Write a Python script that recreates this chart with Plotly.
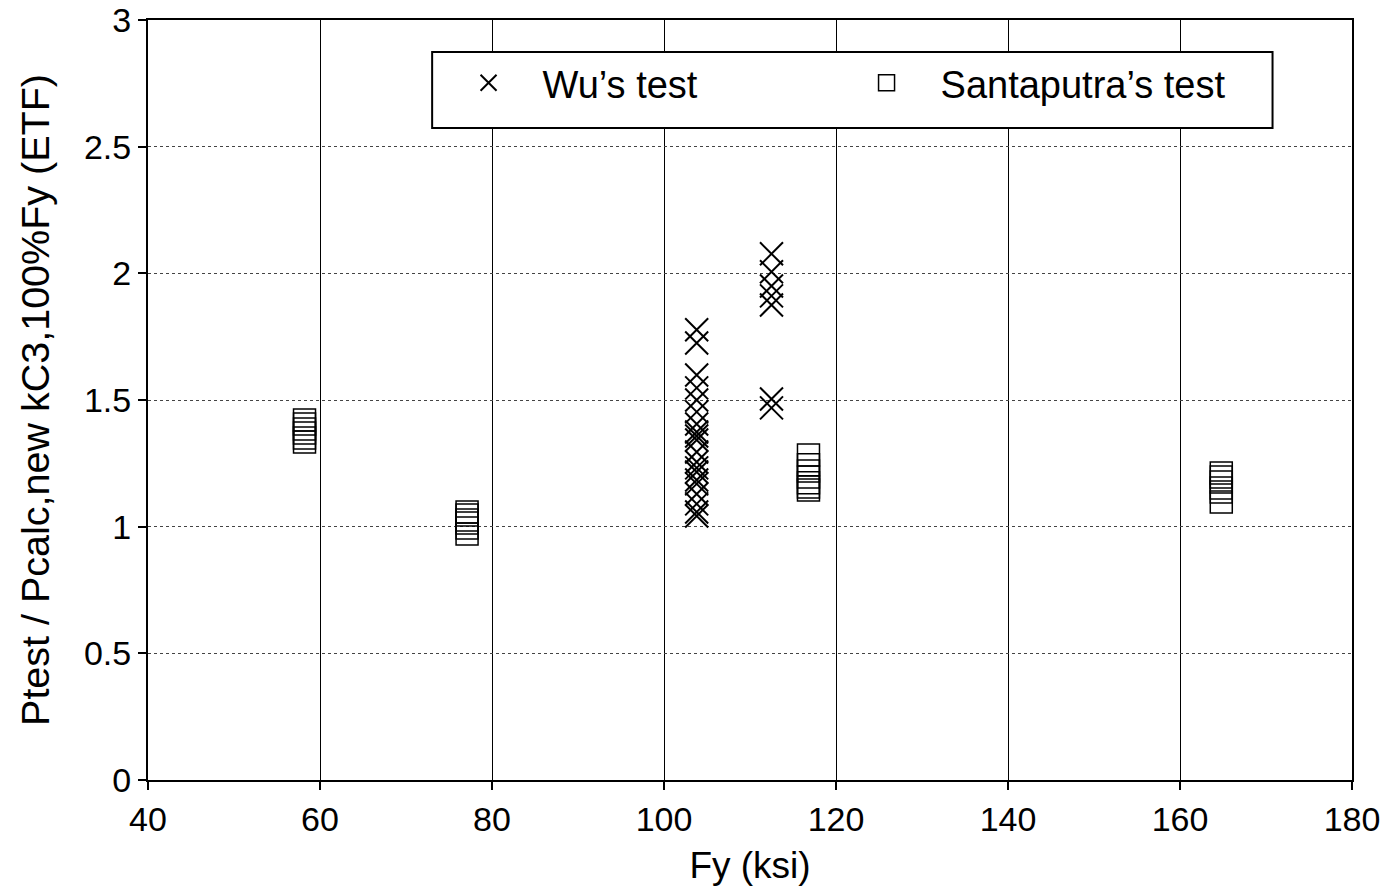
import plotly.graph_objects as go

# Wu's test (x markers)
wu_fy = [103.8] * 20 + [112.5] * 7
wu_ratio = [1.777, 1.725,
            1.599, 1.548, 1.500, 1.453, 1.405, 1.374, 1.358, 1.342, 1.295,
            1.255, 1.232, 1.216, 1.184, 1.169, 1.129, 1.090, 1.058, 1.042,
            2.077, 2.006, 1.950, 1.911, 1.875, 1.504, 1.469]

# Santaputra's test (square markers)
sp_fy = [58.2] * 6 + [77.1] * 6 + [116.8] * 7 + [164.8] * 6
sp_ratio = [1.421, 1.405, 1.386, 1.370, 1.350, 1.334,
            1.058, 1.046, 1.026, 1.014, 0.995, 0.971,
            1.283, 1.244, 1.220, 1.196, 1.173, 1.157, 1.145,
            1.212, 1.196, 1.176, 1.153, 1.137, 1.097]

x_ticks = [40, 60, 80, 100, 120, 140, 160, 180]
y_ticks = [0, 0.5, 1, 1.5, 2, 2.5, 3]
y_labels = ["0", "0.5", "1", "1.5", "2", "2.5", "3"]

FONT = "Liberation Sans, Arial, Helvetica, sans-serif"

fig = go.Figure()
fig.add_trace(go.Scatter(
    x=wu_fy, y=wu_ratio, mode="markers", name="Wu\u2019s test",
    marker=dict(symbol="x-thin", size=23, line=dict(color="black", width=2)),
))
fig.add_trace(go.Scatter(
    x=sp_fy, y=sp_ratio, mode="markers", name="Santaputra\u2019s test",
    marker=dict(symbol="square-open", size=22, color="black", line=dict(color="black", width=1.5)),
))

# legend frame
fig.add_shape(type="rect", xref="paper", yref="paper",
              x0=0.236, x1=0.934, y0=0.858, y1=0.958,
              fillcolor="white", line=dict(color="black", width=2), layer="above")

# page body adds an 8px offset, margins account for it
fig.update_layout(
    width=1390, height=889,
    paper_bgcolor="white", plot_bgcolor="white",
    margin=dict(l=140, r=46, t=12, b=117),
    font=dict(family=FONT, size=34, color="black"),
    showlegend=True,
    legend=dict(
        orientation="h", x=0.238, y=0.917, xanchor="left", yanchor="middle",
        bgcolor="rgba(0,0,0,0)", borderwidth=0, itemsizing="trace", itemwidth=98,
        entrywidth=285, entrywidthmode="pixels",
        font=dict(family=FONT, size=38, color="black"),
    ),
)
fig.update_xaxes(
    range=[40, 180], tickvals=x_ticks, automargin=False, ticklabeloverflow="allow",
    title=dict(text="Fy (ksi)", standoff=15, font=dict(size=37)),
    showgrid=True, gridcolor="black", gridwidth=1.3,
    showline=True, linecolor="black", linewidth=2, mirror=True,
    ticks="outside", ticklen=8, tickwidth=2, tickcolor="black", zeroline=False,
)
fig.update_yaxes(
    range=[0, 3], tickvals=y_ticks, ticktext=y_labels, automargin=False,
    ticklabeloverflow="allow",
    title=dict(text="Ptest / Pcalc,new kC3,100%Fy (ETF)", standoff=22, font=dict(size=39.5)),
    showgrid=True, gridcolor="#444444", gridwidth=1.3, griddash="dot",
    showline=True, linecolor="black", linewidth=2, mirror=True,
    ticks="outside", ticklen=8, tickwidth=2, tickcolor="black", zeroline=False,
)

fig.write_html("out.html")
